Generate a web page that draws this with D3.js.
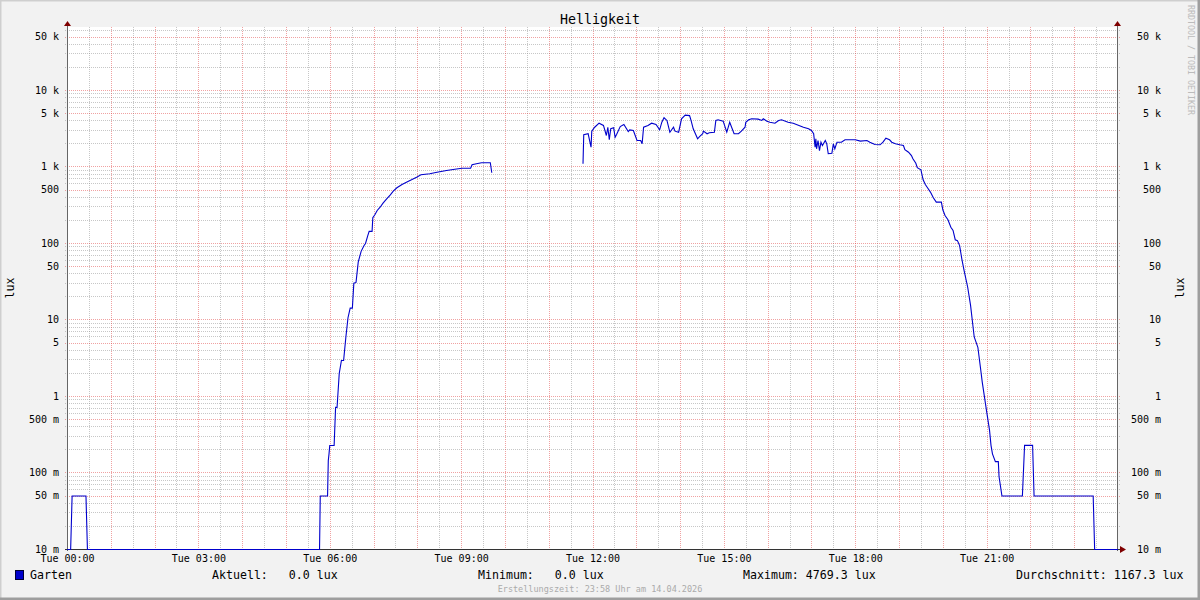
<!DOCTYPE html>
<html>
<head>
<meta charset="utf-8">
<script src="https://cdn.jsdelivr.net/npm/d3@7"></script>
<style>
  html, body { margin: 0; padding: 0; background: #f2f2f2; }
  svg { display: block; }
  text { font-family: "DejaVu Sans Mono", monospace; fill: #000; }
</style>
</head>
<body>
<svg id="chart" width="1200" height="600"></svg>
<script>
// ---------- data ----------
const title = "Helligkeit";
const seriesName = "Garten";
const unitLabel = "lux";
const times = [
  "00:00","00:05","00:07","00:26","00:28","05:46","05:47","05:57","05:58","05:59",
  "06:00","06:06","06:08","06:10","06:13","06:16","06:19","06:22","06:25","06:28",
  "06:31","06:33","06:36","06:39","06:43","06:47","06:49","06:52","06:54","06:58",
  "06:59","07:02","07:05","07:09","07:13","07:18","07:23","07:27","07:32","07:39",
  "07:45","07:52","07:59","08:05","08:17","08:27","08:40","08:49","09:01","09:13",
  "09:15","09:21","09:28","09:40","09:42","09:43","11:46",
  "11:47","11:48","11:54","11:58","11:59","12:03","12:09","12:15","12:19","12:21",
  "12:23","12:25","12:29","12:31","12:33","12:38","12:43","12:49","12:51","12:56",
  "13:01","13:06","13:08","13:10","13:16","13:21","13:27","13:32","13:35","13:38",
  "13:42","13:46","13:51","13:53","13:58","14:02","14:07","14:13","14:15","14:18",
  "14:24","14:27","14:31","14:32","14:37","14:40","14:47","14:49","14:52","14:59",
  "15:04","15:08","15:14","15:20","15:24","15:29","15:30","15:34","15:38","15:47",
  "15:52","15:54","15:59","16:03","16:10","16:15","16:19","16:28","16:35","16:49",
  "16:56","17:00","17:03","17:05","17:06","17:07","17:09","17:11","17:13","17:15",
  "17:19","17:21","17:23","17:28","17:30","17:32","17:35","17:41","17:46","18:00",
  "18:07","18:16","18:20","18:27","18:34","18:38","18:42","18:47","18:50","18:55",
  "19:01","19:06","19:08","19:13","19:17","19:19","19:23","19:25","19:30","19:33",
  "19:36","19:39","19:43","19:47","19:51","19:58","20:00","20:03","20:07","20:11",
  "20:14","20:17","20:20","20:23","20:26","20:29","20:34","20:38","20:43","20:48",
  "20:52","20:54","21:00","21:04","21:06","21:08","21:12","21:16","21:17","21:21",
  "21:49","21:52","22:03","22:05","23:26","23:28","24:00"
];
const lux = [
  0,0,0.05,0.05,0,0,0.05,0.05,0.146,0.178,
  0.229,0.229,0.72,0.72,2.0,2.96,2.96,5.85,10.7,14.3,
  14.3,30.3,31,57,79,94,100,126,144,144,
  217,239,270,298,337,384,433,483,535,591,
  633,680,736,791,815,855,900,927,964,964,
  1069,1101,1135,1135,840,null,null,
  1100,2640,2720,1820,2940,3310,3740,3490,2580,3310,
  2270,3160,3250,2450,2660,3380,3590,2910,3060,3000,
  2220,2220,2010,3310,3490,3740,3590,3060,3850,4400,
  4060,2850,3310,2940,2850,4270,4769,4700,4060,3160,
  2340,2510,2720,2940,2720,2800,2850,4060,4140,3970,
  2850,3850,2720,2720,2940,3310,3850,4140,4270,4220,
  4060,4270,3970,3850,3740,4060,4140,3850,3740,3310,
  3160,3000,2720,1820,2340,1730,2220,1640,2110,1910,
  2220,2010,1490,1515,2010,1730,2110,2110,2270,2270,
  2180,2220,2110,1970,1950,2110,2380,2270,2110,2010,
  1950,1910,1680,1560,1410,1280,1120,980,920,680,
  590,535,470,396,347,347,276,232,204,163,
  148,112,109,94,63,45,27,15.5,6.0,4.4,
  2.2,1.54,0.64,0.36,0.23,0.178,0.141,0.141,0.09,0.05,
  0.05,0.23,0.23,0.05,0.05,0,0
];
const xTickHours = [0, 3, 6, 9, 12, 15, 18, 21];
const xTickLabels = ["Tue 00:00","Tue 03:00","Tue 06:00","Tue 09:00","Tue 12:00","Tue 15:00","Tue 18:00","Tue 21:00"];
const yTickValues = [50000, 10000, 5000, 1000, 500, 100, 50, 10, 5, 1, 0.5, 0.1, 0.05, 0.01];
const yTickLabels = ["50 k","10 k","5 k","1 k","500","100","50","10","5","1","500 m","100 m","50 m","10 m"];
const yDomain = [0.01, 66600];
const xDomain = [0, 24];
const legendLabels = ["Aktuell:", "Minimum:", "Maximum:", "Durchschnitt:"];
const legendValues = ["0.0 lux", "0.0 lux", "4769.3 lux", "1167.3 lux"];
const footer = "Erstellungszeit: 23:58 Uhr am 14.04.2026";
const watermark = "RRDTOOL / TOBI OETIKER";

// ---------- layout ----------
const L = 67, R = 1118, T = 27, B = 549;
const svg = d3.select("#chart");
const x = d3.scaleLinear().domain(xDomain).range([L, R]);
const y = d3.scaleLog().domain(yDomain).range([B, T]);

const toHours = s => { const [h, m] = s.split(":").map(Number); return h + m / 60; };
const data = times.map((t, i) => ({ t: toHours(t), v: lux[i] }));

// background + 3D border
svg.append("rect").attr("width", 1200).attr("height", 600).attr("fill", "#f2f2f2");
svg.append("path").attr("d", "M0,600 V0 H1200").attr("fill", "none").attr("stroke", "#cfcfcf").attr("stroke-width", 3);
svg.append("path").attr("d", "M0,599 H1199 V0").attr("fill", "none").attr("stroke", "#9e9e9e").attr("stroke-width", 3);

// canvas
svg.append("rect").attr("x", L).attr("y", T).attr("width", R - L).attr("height", B - T).attr("fill", "#ffffff");

const grid = svg.append("g");
const minorCol = "rgba(143,143,143,0.5)";
const majorCol = "rgba(222,48,48,0.45)";

// horizontal grid (log)
const minorY = [], majorY = [];
for (let e = -2; e <= 4; e++) {
  for (let k = 1; k <= 9; k++) {
    const v = k * Math.pow(10, e);
    if (v < yDomain[0] || v > yDomain[1]) continue;
    if (k === 1 || k === 5) majorY.push(v); else minorY.push(v);
  }
}
grid.selectAll(".hmin").data(minorY).join("line")
  .attr("x1", L - 2).attr("x2", R + 2)
  .attr("y1", d => Math.round(y(d)) + 0.5).attr("y2", d => Math.round(y(d)) + 0.5)
  .attr("stroke", minorCol).attr("stroke-dasharray", "1,1");
// vertical grid
const halfHours = d3.range(0.5, 24, 0.5);
grid.selectAll(".vmin").data(halfHours.filter(h => h % 1 !== 0)).join("line")
  .attr("x1", d => Math.round(x(d)) + 0.5).attr("x2", d => Math.round(x(d)) + 0.5)
  .attr("y1", T).attr("y2", B)
  .attr("stroke", minorCol).attr("stroke-dasharray", "1,1");
grid.selectAll(".vmaj").data(d3.range(1, 24)).join("line")
  .attr("x1", d => Math.round(x(d)) + 0.5).attr("x2", d => Math.round(x(d)) + 0.5)
  .attr("y1", T).attr("y2", B + 2)
  .attr("stroke", majorCol).attr("stroke-dasharray", "1,1");
grid.selectAll(".hmaj").data(majorY).join("line")
  .attr("x1", L - 2).attr("x2", R + 2)
  .attr("y1", d => Math.round(y(d)) + 0.5).attr("y2", d => Math.round(y(d)) + 0.5)
  .attr("stroke", majorCol).attr("stroke-dasharray", "1,1");

// axes lines
const axisCol = "#666666";
svg.append("line").attr("x1", L + 0.5).attr("x2", L + 0.5).attr("y1", T - 2).attr("y2", B + 2).attr("stroke", axisCol);
svg.append("line").attr("x1", R - 0.5).attr("x2", R - 0.5).attr("y1", T - 2).attr("y2", B + 2).attr("stroke", axisCol);
svg.append("line").attr("x1", L - 2).attr("x2", R + 3).attr("y1", B + 0.5).attr("y2", B + 0.5).attr("stroke", "#333");

// arrows
const arrowCol = "#7f0000";
svg.append("path").attr("d", `M${L + 0.5},${T - 6} L${L - 3},${T - 1} L${L + 4},${T - 1} Z`).attr("fill", arrowCol);
svg.append("path").attr("d", `M${R - 0.5},${T - 6} L${R - 4},${T - 1} L${R + 3},${T - 1} Z`).attr("fill", arrowCol);
svg.append("path").attr("d", `M${R + 8},${B + 0.5} L${R + 2},${B - 3} L${R + 2},${B + 4} Z`).attr("fill", arrowCol);

// data line
const line = d3.line()
  .defined(d => d.v !== null)
  .x(d => x(d.t))
  .y(d => y(Math.max(d.v, yDomain[0])) + 0.5);
svg.append("path").datum(data)
  .attr("d", line)
  .attr("fill", "none")
  .attr("stroke", "#0000cc")
  .attr("stroke-width", 1.1)
  .attr("stroke-linejoin", "miter");

// axis labels via d3 axes
const yLabelFmt = d => yTickLabels[yTickValues.indexOf(d)];
const styleAxis = g => {
  g.select(".domain").remove();
  g.selectAll(".tick line").remove();
  g.attr("font-family", null).attr("font-size", null);
  g.selectAll("text")
    .attr("font-size", 10)
    .attr("fill", "#000")
    .style("fill", "#000")
    .style("font-family", "'DejaVu Sans Mono', monospace");
};
svg.append("g").attr("transform", `translate(${L - 8},0)`)
  .call(d3.axisLeft(y).tickValues(yTickValues).tickFormat(yLabelFmt).tickSize(0).tickPadding(0))
  .call(styleAxis);
svg.append("g").attr("transform", `translate(${R + 43},0)`)
  .call(d3.axisLeft(y).tickValues(yTickValues).tickFormat(yLabelFmt).tickSize(0).tickPadding(0))
  .call(styleAxis);
svg.append("g").attr("transform", `translate(0,${B + 6})`)
  .call(d3.axisBottom(x).tickValues(xTickHours).tickFormat((d, i) => xTickLabels[i]).tickSize(0).tickPadding(0))
  .call(styleAxis);

// title
svg.append("text").attr("x", 600).attr("y", 24).attr("text-anchor", "middle")
  .attr("font-size", 13.3).text(title);

// unit labels
svg.append("text").attr("transform", "translate(14,288) rotate(-90)").attr("text-anchor", "middle")
  .attr("font-size", 11.6).text(unitLabel);
svg.append("text").attr("transform", "translate(1184,288) rotate(-90)").attr("text-anchor", "middle")
  .attr("font-size", 11.6).text(unitLabel);

// watermark
svg.append("text").attr("transform", "translate(1188,5) rotate(90)").attr("text-anchor", "start")
  .attr("font-size", 8.3).style("fill", "#bbbbbb").text(watermark);

// legend
svg.append("rect").attr("x", 15.5).attr("y", 570.5).attr("width", 8).attr("height", 9)
  .attr("fill", "#0000cc").attr("stroke", "#000033").attr("stroke-width", 1);
svg.append("text").attr("x", 30).attr("y", 579).attr("font-size", 11.6).text(seriesName);
const legendX = [212, 478, 743, 1016];
const legendPad = ["   ", "   ", " ", " "];
svg.selectAll(".leg").data(legendLabels).join("text")
  .attr("x", (d, i) => legendX[i]).attr("y", 579)
  .attr("font-size", 11.6)
  .style("white-space", "pre")
  .text((d, i) => d + legendPad[i] + legendValues[i]);

// footer
svg.append("text").attr("x", 600).attr("y", 592).attr("text-anchor", "middle")
  .attr("font-size", 8.5).style("fill", "#aaaaaa").text(footer);
</script>
</body>
</html>
